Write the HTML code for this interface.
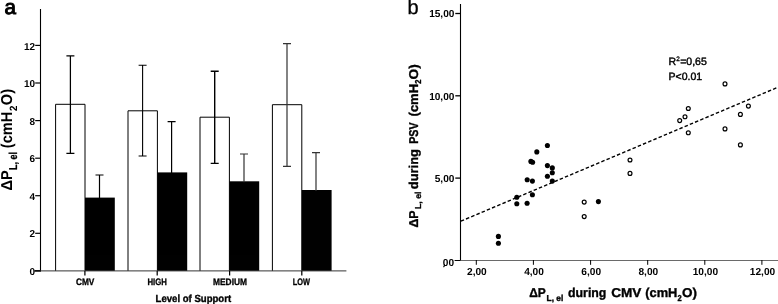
<!DOCTYPE html>
<html><head><meta charset="utf-8"><title>fig</title>
<style>
html,body{margin:0;padding:0;background:#fff;}
body{width:778px;height:304px;overflow:hidden;font-family:"Liberation Sans",sans-serif;}
svg{display:block;will-change:transform;opacity:0.9999;font-family:"Liberation Sans",sans-serif;}
.b{font-weight:bold}
</style></head><body>
<svg width="778" height="304" viewBox="0 0 778 304" text-rendering="geometricPrecision">
<rect width="778" height="304" fill="#fff"/>

<text x="4.4" y="14.4" font-size="20.6" stroke="#000" stroke-width="1.0">a</text>
<path d="M55.6 270.9V104.3H85.0V270.9" fill="#fff" stroke="#000" stroke-width="1"/>
<rect x="85.0" y="197.6" width="29.8" height="73.3" fill="#000"/>
<path d="M70.4 55.8V153.4M66.4 55.8h8M66.4 153.4h8" stroke="#000" stroke-width="1.25" fill="none"/>
<path d="M99.5 175.0V198.6M95.5 175.0h8" stroke="#000" stroke-width="1.2" fill="none"/>
<path d="M128.0 270.9V110.8H157.4V270.9" fill="#fff" stroke="#000" stroke-width="1"/>
<rect x="157.4" y="172.4" width="29.8" height="98.5" fill="#000"/>
<path d="M142.6 65.3V156.0M138.6 65.3h8M138.6 156.0h8" stroke="#000" stroke-width="1.1" fill="none"/>
<path d="M171.6 121.7V173.4M167.6 121.7h8" stroke="#000" stroke-width="1.2" fill="none"/>
<path d="M200.0 270.9V117.2H229.4V270.9" fill="#fff" stroke="#000" stroke-width="1"/>
<rect x="229.4" y="181.3" width="29.8" height="89.6" fill="#000"/>
<path d="M214.7 71.3V163.4M210.7 71.3h8M210.7 163.4h8" stroke="#000" stroke-width="1.4" fill="none"/>
<path d="M244.0 154.0V182.3M240.0 154.0h8" stroke="#333" stroke-width="1.2" fill="none"/>
<path d="M272.4 270.9V104.7H301.8V270.9" fill="#fff" stroke="#000" stroke-width="1"/>
<rect x="301.8" y="190.0" width="29.8" height="80.9" fill="#000"/>
<path d="M287.0 43.6V166.3M283.0 43.6h8M283.0 166.3h8" stroke="#333" stroke-width="1.2" fill="none"/>
<path d="M316.0 152.6V191.0M312.0 152.6h8" stroke="#333" stroke-width="1.2" fill="none"/>
<path d="M40.5 9V271.4" stroke="#000" stroke-width="1.1" fill="none"/>
<path d="M40 270.9H346.4" stroke="#333" stroke-width="1" fill="none"/>
<path d="M34.4 270.9H40.5" stroke="#000" stroke-width="1.7" fill="none"/>
<text x="35.0" y="275.0" font-size="10" class="b" text-anchor="end">0</text>
<path d="M35.2 233.3H40.5" stroke="#000" stroke-width="1.2" fill="none"/>
<text x="35.0" y="237.4" font-size="10" class="b" text-anchor="end">2</text>
<path d="M35.2 195.7H40.5" stroke="#000" stroke-width="1.2" fill="none"/>
<text x="35.0" y="199.8" font-size="10" class="b" text-anchor="end">4</text>
<path d="M35.2 158.2H40.5" stroke="#000" stroke-width="1.2" fill="none"/>
<text x="35.0" y="162.3" font-size="10" class="b" text-anchor="end">6</text>
<path d="M35.2 120.6H40.5" stroke="#000" stroke-width="1.2" fill="none"/>
<text x="35.0" y="124.7" font-size="10" class="b" text-anchor="end">8</text>
<path d="M35.2 83.0H40.5" stroke="#000" stroke-width="1.2" fill="none"/>
<text x="35.0" y="87.1" font-size="10" class="b" text-anchor="end">10</text>
<path d="M35.2 45.4H40.5" stroke="#000" stroke-width="1.2" fill="none"/>
<text x="35.0" y="49.5" font-size="10" class="b" text-anchor="end">12</text>
<path d="M84.9 270.9V275.5" stroke="#000" stroke-width="1.25" fill="none"/>
<path d="M157.2 270.9V275.5" stroke="#000" stroke-width="1.25" fill="none"/>
<path d="M229.6 270.9V275.5" stroke="#000" stroke-width="1.25" fill="none"/>
<path d="M301.8 270.9V275.5" stroke="#000" stroke-width="1.25" fill="none"/>
<text x="75.9" y="285.0" font-size="9.3" class="b" stroke="#000" stroke-width="0.3" textLength="18.5" lengthAdjust="spacingAndGlyphs">CMV</text>
<text x="147.4" y="285.0" font-size="9.3" class="b" stroke="#000" stroke-width="0.3" textLength="19.4" lengthAdjust="spacingAndGlyphs">HIGH</text>
<text x="213.0" y="285.0" font-size="9.3" class="b" stroke="#000" stroke-width="0.3" textLength="34.0" lengthAdjust="spacingAndGlyphs">MEDIUM</text>
<text x="292.7" y="285.0" font-size="9.3" class="b" stroke="#000" stroke-width="0.3" textLength="17.3" lengthAdjust="spacingAndGlyphs">LOW</text>
<text x="155.6" y="301.8" font-size="10.3" class="b" stroke="#000" stroke-width="0.35" textLength="75.5" lengthAdjust="spacingAndGlyphs">Level of Support</text>
<g transform="translate(11.9,190.4) rotate(-90) scale(1,1.08)" class="b"><text x="0" y="0" font-size="14.6">ΔP</text><text x="20.4" y="4.6" font-size="10.6" textLength="18.0" lengthAdjust="spacingAndGlyphs" stroke="#000" stroke-width="0.25">L, el</text><text x="42.2" y="0" font-size="14.6">(cmH</text><text x="79.4" y="4.4" font-size="9.8">2</text><text x="85.2" y="0" font-size="14.6">O)</text></g>
<text x="407.6" y="14.3" font-size="20" stroke="#000" stroke-width="0.3">b</text>
<path d="M460.5 4V260.6" stroke="#000" stroke-width="1.1" fill="none"/>
<path d="M460.0 260.5H778" stroke="#6a6a6a" stroke-width="1" fill="none"/>
<path d="M455.3 13.5H460.5" stroke="#000" stroke-width="1.3" fill="none"/>
<text x="454.4" y="17.1" font-size="10.1" class="b" text-anchor="end">15,00</text>
<path d="M455.3 95.8H460.5" stroke="#000" stroke-width="1.3" fill="none"/>
<text x="454.4" y="100.1" font-size="10.1" class="b" text-anchor="end">10,00</text>
<path d="M455.3 178.1H460.5" stroke="#000" stroke-width="1.3" fill="none"/>
<text x="454.4" y="182.4" font-size="10.1" class="b" text-anchor="end">5,00</text>
<path d="M454.6 260.5H460.5" stroke="#000" stroke-width="1" fill="none"/>
<text x="454.0" y="266.1" font-size="10.1" class="b" text-anchor="end">00</text>
<path d="M444.4 264.3 q0.4 1.6 -0.9 2.9" stroke="#000" stroke-width="1.2" fill="none"/>
<path d="M476.3 260V264.8" stroke="#000" stroke-width="1" fill="none"/>
<text x="476.9" y="275.0" font-size="10.15" class="b" text-anchor="middle">2,00</text>
<path d="M533.4 260V264.8" stroke="#000" stroke-width="1" fill="none"/>
<text x="534.0" y="275.0" font-size="10.15" class="b" text-anchor="middle">4,00</text>
<path d="M590.6 260V264.8" stroke="#000" stroke-width="1" fill="none"/>
<text x="591.2" y="275.0" font-size="10.15" class="b" text-anchor="middle">6,00</text>
<path d="M647.7 260V264.8" stroke="#000" stroke-width="1" fill="none"/>
<text x="648.3" y="275.0" font-size="10.15" class="b" text-anchor="middle">8,00</text>
<path d="M704.8 260V264.8" stroke="#000" stroke-width="1" fill="none"/>
<text x="705.4" y="275.0" font-size="10.15" class="b" text-anchor="middle">10,00</text>
<path d="M761.9 260V264.8" stroke="#000" stroke-width="1" fill="none"/>
<text x="762.5" y="275.0" font-size="10.15" class="b" text-anchor="middle">12,00</text>
<path d="M460.8 221.2L778.5 87.0" stroke="#000" stroke-width="1.4" stroke-dasharray="3.5 2.15" fill="none"/>
<circle cx="547.4" cy="145.5" r="2.55" fill="#000"/>
<circle cx="536.8" cy="151.9" r="2.55" fill="#000"/>
<circle cx="530.9" cy="161.4" r="2.55" fill="#000"/>
<circle cx="532.6" cy="162.2" r="2.55" fill="#000"/>
<circle cx="547.4" cy="165.6" r="2.55" fill="#000"/>
<circle cx="552.3" cy="167.9" r="2.55" fill="#000"/>
<circle cx="552.3" cy="172.7" r="2.55" fill="#000"/>
<circle cx="547.4" cy="176.2" r="2.55" fill="#000"/>
<circle cx="527.2" cy="179.7" r="2.55" fill="#000"/>
<circle cx="532.4" cy="181.1" r="2.55" fill="#000"/>
<circle cx="552.3" cy="181.1" r="2.55" fill="#000"/>
<circle cx="532.4" cy="194.8" r="2.55" fill="#000"/>
<circle cx="516.8" cy="197.2" r="2.55" fill="#000"/>
<circle cx="516.8" cy="203.7" r="2.55" fill="#000"/>
<circle cx="527.1" cy="203.2" r="2.55" fill="#000"/>
<circle cx="598.4" cy="201.6" r="2.55" fill="#000"/>
<circle cx="498.4" cy="236.4" r="2.55" fill="#000"/>
<circle cx="498.4" cy="243.2" r="2.55" fill="#000"/>
<circle cx="584.2" cy="202.1" r="1.95" fill="#fff" stroke="#000" stroke-width="1.2"/>
<circle cx="584.2" cy="216.6" r="1.95" fill="#fff" stroke="#000" stroke-width="1.2"/>
<circle cx="630" cy="160" r="1.95" fill="#fff" stroke="#000" stroke-width="1.2"/>
<circle cx="630" cy="173.4" r="1.95" fill="#fff" stroke="#000" stroke-width="1.2"/>
<circle cx="725" cy="83.9" r="1.95" fill="#fff" stroke="#000" stroke-width="1.2"/>
<circle cx="688.3" cy="108.5" r="1.95" fill="#fff" stroke="#000" stroke-width="1.2"/>
<circle cx="685" cy="116.8" r="1.95" fill="#fff" stroke="#000" stroke-width="1.2"/>
<circle cx="679.7" cy="120.6" r="1.95" fill="#fff" stroke="#000" stroke-width="1.2"/>
<circle cx="688.3" cy="132.8" r="1.95" fill="#fff" stroke="#000" stroke-width="1.2"/>
<circle cx="725" cy="128.9" r="1.95" fill="#fff" stroke="#000" stroke-width="1.2"/>
<circle cx="740.4" cy="114.4" r="1.95" fill="#fff" stroke="#000" stroke-width="1.2"/>
<circle cx="748.4" cy="106.1" r="1.95" fill="#fff" stroke="#000" stroke-width="1.2"/>
<circle cx="740.4" cy="144.9" r="1.95" fill="#fff" stroke="#000" stroke-width="1.2"/>
<g font-size="10.6" stroke="#000" stroke-width="0.42"><text x="668.6" y="64.9" textLength="7.6" lengthAdjust="spacingAndGlyphs">R</text><text x="676.3" y="60.6" font-size="6.4" stroke-width="0.3">2</text><text x="680.2" y="64.9" textLength="26.6" lengthAdjust="spacingAndGlyphs">=0,65</text><text x="668.6" y="79.9" textLength="33.6" lengthAdjust="spacingAndGlyphs">P&lt;0.01</text></g>
<g class="b" stroke="#000" stroke-width="0.35"><text x="529.2" y="296.9" font-size="12.8" textLength="16.6" lengthAdjust="spacingAndGlyphs">ΔP</text><text x="546.6" y="300.5" font-size="8.6" textLength="16.6" lengthAdjust="spacingAndGlyphs">L, el</text><text x="568.0" y="296.9" font-size="12.8" textLength="38.4" lengthAdjust="spacingAndGlyphs">during</text><text x="611.2" y="296.9" font-size="12.8" textLength="30.2" lengthAdjust="spacingAndGlyphs">CMV</text><text x="645.2" y="296.9" font-size="12.8" textLength="32.2" lengthAdjust="spacingAndGlyphs">(cmH</text><text x="677.6" y="300.5" font-size="8.6" textLength="4.2" lengthAdjust="spacingAndGlyphs">2</text><text x="682.0" y="296.9" font-size="12.8" textLength="15.0" lengthAdjust="spacingAndGlyphs">O)</text></g>
<g class="b" stroke="#000" stroke-width="0.35" transform="translate(417.7,227.6) rotate(-90)"><text x="0" y="0" font-size="12.8" textLength="17.2" lengthAdjust="spacingAndGlyphs">ΔP</text><text x="18.6" y="3.6" font-size="8.6" textLength="17.4" lengthAdjust="spacingAndGlyphs">L, el</text><text x="38.4" y="0" font-size="12.8" textLength="40.2" lengthAdjust="spacingAndGlyphs">during</text><text x="83.8" y="0" font-size="12.8" textLength="21.4" lengthAdjust="spacingAndGlyphs">PSV</text><text x="111.2" y="0" font-size="12.8" textLength="32.4" lengthAdjust="spacingAndGlyphs">(cmH</text><text x="143.8" y="3.6" font-size="8.6" textLength="4.2" lengthAdjust="spacingAndGlyphs">2</text><text x="148.2" y="0" font-size="12.8" textLength="15.2" lengthAdjust="spacingAndGlyphs">O)</text></g>
</svg></body></html>
